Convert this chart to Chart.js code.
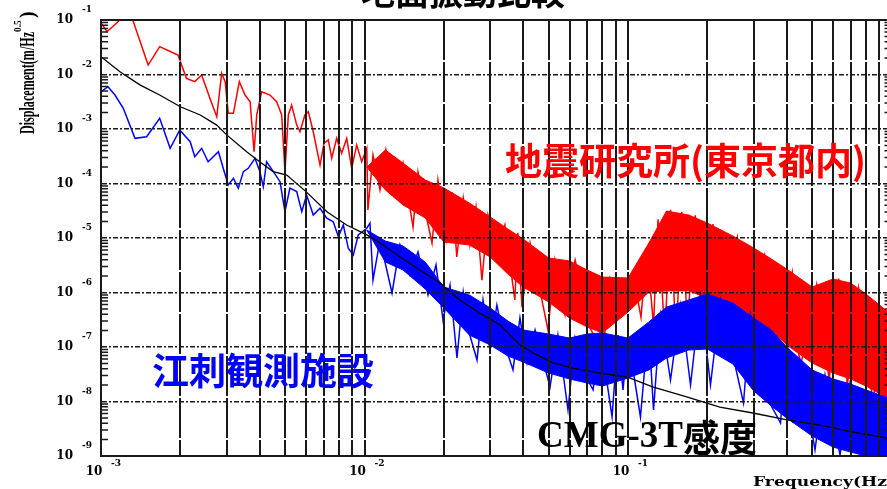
<!DOCTYPE html>
<html>
<head>
<meta charset="utf-8">
<title>地面振動比較</title>
<script src="https://cdn.jsdelivr.net/npm/chart.js@4.4.1/dist/chart.umd.min.js"></script>
<style>
  html, body { margin: 0; padding: 0; background: #fff; overflow: hidden; }
  canvas { display: block; }
</style>
</head>
<body>
<canvas id="chart" width="900" height="489"></canvas>
<script>
// CMG-3T sensitivity (black)
const blackFreq = [1.0e-3, 1.18e-3, 1.41e-3, 1.67e-3, 2.0e-3, 2.38e-3, 2.75e-3, 3.0e-3, 3.57e-3, 4.0e-3, 4.5e-3, 5.07e-3, 6.0e-3, 7.2e-3, 8.55e-3,
  1.02e-2, 1.15e-2, 1.36e-2, 1.62e-2, 1.94e-2, 2.3e-2, 2.74e-2, 3.27e-2, 3.89e-2, 4.36e-2, 5.19e-2, 6.18e-2, 7.83e-2, 9.9e-2,
  0.124, 0.167, 0.223, 0.298, 0.401, 0.535, 0.714, 0.96, 1.0];
const blackVal = [2.12e-2, 1.12e-2, 6.4e-3, 4.2e-3, 2.56e-3, 1.81e-3, 1.18e-3, 7.8e-4, 3.83e-4, 2.5e-4, 1.65e-4, 1.43e-4, 7.1e-5, 3.04e-5, 1.73e-5,
  1.14e-5, 8.0e-6, 4.54e-6, 2.59e-6, 1.48e-6, 7.3e-7, 4.15e-7, 2.53e-7, 1.09e-7, 7.8e-8, 5.1e-8, 4.1e-8, 3.33e-8, 2.82e-8,
  1.85e-8, 1.21e-8, 7.9e-9, 6.15e-9, 4.58e-9, 3.7e-9, 2.75e-9, 2.14e-9, 2.05e-9];

// 地震研究所 trace (red)
const redFreq = [1.0e-3, 1.054e-3, 1.16e-3, 1.24e-3, 1.32e-3, 1.51e-3, 1.67e-3, 1.78e-3, 1.96e-3, 2.11e-3, 2.27e-3, 2.41e-3, 2.59e-3, 2.75e-3,
  2.87e-3, 2.96e-3, 3.04e-3, 3.18e-3, 3.35e-3, 3.52e-3, 3.68e-3, 3.81e-3, 3.90e-3, 4.07e-3, 4.38e-3, 4.64e-3, 4.85e-3, 4.99e-3,
  5.14e-3, 5.29e-3, 5.53e-3, 5.69e-3, 5.94e-3, 6.12e-3, 6.39e-3, 6.78e-3, 7.02e-3, 7.29e-3, 7.51e-3, 7.84e-3, 8.19e-3, 8.56e-3,
  8.94e-3, 9.34e-3, 9.76e-3, 1.02e-2, 1.03e-2,
  1.077e-2, 1.145e-2, 1.206e-2, 1.305e-2, 1.40e-2, 1.528e-2, 1.596e-2, 1.712e-2, 1.804e-2, 1.90e-2, 2.04e-2, 2.15e-2, 2.24e-2,
  2.37e-2, 2.51e-2, 2.65e-2, 2.79e-2, 2.94e-2, 3.18e-2, 3.41e-2, 3.72e-2, 3.82e-2, 3.96e-2, 4.25e-2, 4.63e-2, 4.97e-2, 5.28e-2,
  5.77e-2, 6.30e-2, 7.18e-2, 8.04e-2, 8.54e-2, 9.33e-2, 0.1,
  0.105, 0.112, 0.118, 0.125, 0.13, 0.138, 0.145, 0.152, 0.16, 0.168, 0.18, 0.19, 0.21, 0.225, 0.26, 0.28, 0.33, 0.36,
  0.42, 0.45, 0.52, 0.58, 0.63, 0.68, 0.75, 0.85, 0.95];
const redVal = [8.8e-2, 6.1e-2, 9.3e-2, 1.4e-1, 1.0e-1, 1.49e-2, 3.24e-2, 2.82e-2, 2.28e-2, 8.5e-3, 7.4e-3, 9.8e-3, 3.66e-3, 1.68e-3,
  1.05e-2, 7.4e-3, 1.94e-3, 1.94e-3, 7.4e-3, 4.2e-3, 3.17e-3, 3.83e-4, 1.81e-3, 4.83e-3, 4.2e-3, 3.17e-3, 1.81e-3, 1.65e-4,
  1.81e-3, 2.75e-3, 1.18e-3, 8.9e-4, 1.81e-3, 2.08e-3, 8.9e-4, 2.18e-4, 5.47e-4, 6.3e-4, 2.9e-4, 6.75e-4, 3.58e-4, 6.75e-4,
  1.9e-4, 5.08e-4, 2.51e-4, 4.43e-4, 3.27e-5,
  3.33e-4, 7.6e-5, 4.12e-4, 6.15e-5, 2.38e-4, 1.59e-5, 1.63e-4, 2.64e-5, 8.1e-6, 1.16e-4, 9.2e-6, 6.98e-5, 4.48e-6,
  5.42e-5, 7.45e-6, 3.71e-5, 1.69e-6, 2.64e-5, 4.88e-6, 1.73e-5, 7.3e-7, 1.24e-5, 5.4e-7, 8.1e-6, 1.11e-6, 2.05e-7, 3.94e-6,
  3.87e-7, 3.94e-6, 2.23e-7, 7.8e-8, 1.85e-6, 7.3e-7, 1.85e-6,
  2.0e-6, 3.5e-7, 6.0e-6, 2.5e-7, 2.2e-5, 1.5e-7, 3.3e-5, 1.2e-7, 3.0e-5, 2.5e-7, 2.6e-5, 3.0e-7, 1.8e-5, 3.0e-7, 1.0e-5, 2.0e-7, 4.8e-6, 1.0e-7,
  2.4e-6, 4.0e-8, 1.4e-6, 2.5e-8, 1.8e-6, 2.0e-8, 1.2e-6, 1.0e-8, 4.8e-7];

// 江刺観測施設 trace (blue)
const blueFreq = [1.0e-3, 1.063e-3, 1.13e-3, 1.215e-3, 1.346e-3, 1.49e-3, 1.67e-3, 1.83e-3, 1.99e-3, 2.18e-3, 2.27e-3, 2.41e-3, 2.55e-3,
  2.79e-3, 2.91e-3, 3.04e-3, 3.18e-3, 3.32e-3, 3.47e-3, 3.62e-3, 3.84e-3, 4.01e-3, 4.13e-3, 4.25e-3, 4.51e-3, 4.78e-3, 4.99e-3,
  5.21e-3, 5.53e-3, 5.78e-3, 6.03e-3, 6.39e-3, 6.78e-3, 7.19e-3, 7.61e-3, 7.96e-3, 8.31e-3, 8.68e-3, 9.07e-3, 9.47e-3, 1.02e-2,
  1.049e-2, 1.077e-2, 1.145e-2, 1.272e-2, 1.363e-2, 1.488e-2, 1.596e-2, 1.742e-2, 1.868e-2, 1.986e-2, 2.111e-2, 2.244e-2, 2.37e-2,
  2.51e-2, 2.673e-2, 2.817e-2, 2.995e-2, 3.18e-2, 3.41e-2, 3.66e-2, 3.89e-2, 4.14e-2, 4.44e-2, 5.06e-2, 5.42e-2, 5.92e-2, 6.30e-2,
  6.87e-2, 7.37e-2, 7.83e-2, 8.70e-2, 9.17e-2, 9.57e-2, 0.1, 0.1115, 0.1196, 0.125, 0.1328, 0.145, 0.1582, 0.1727, 0.1884,
  0.2056, 0.2244, 0.2744, 0.2916, 0.3325, 0.3791, 0.401, 0.4229, 0.4496, 0.5125, 0.5593, 0.6377, 0.696, 0.8288, 0.96];
const blueVal = [4.83e-3, 5.97e-3, 4.2e-3, 2.4e-3, 6.75e-4, 7.22e-4, 1.57e-3, 4.43e-4, 9.6e-4, 5.85e-4, 3.1e-4, 4.43e-4, 2.51e-4,
  3.83e-4, 1.9e-4, 9.4e-5, 1.24e-4, 8.2e-5, 1.65e-4, 1.9e-4, 2.9e-4, 1.65e-4, 8.7e-5, 2.51e-4, 1.65e-4, 1.08e-4, 3.04e-5,
  8.2e-5, 7.1e-5, 3.04e-5, 6.15e-5, 2.64e-5, 3.51e-5, 2.3e-5, 1.99e-5, 1.06e-5, 1.73e-5, 6.47e-6, 4.88e-6, 1.14e-5, 1.51e-5,
  1.88e-5, 1.69e-6, 9.2e-6, 9.8e-7, 7.45e-6, 2.09e-6, 5.53e-6, 9.0e-7, 3.2e-6, 3.13e-7, 1.37e-6, 6.28e-8, 1.02e-6,
  1.66e-7, 5.77e-8, 7.3e-7, 8.8e-8, 5.9e-7, 1.09e-7, 3.79e-8, 3.4e-7, 5.08e-8, 2.05e-7, 1.85e-8, 1.66e-7, 6.98e-9, 1.46e-7,
  3.06e-8, 1.63e-8, 1.66e-7, 5.2e-9, 1.66e-7, 1.63e-8, 1.46e-7, 5.2e-9, 2.53e-7, 6.98e-9, 3.87e-7, 2.48e-8, 5.9e-7, 2.01e-8, 8.6e-7,
  2.01e-8, 7.3e-7, 9.4e-9, 3.87e-7, 1.32e-8, 4.03e-9, 1.09e-7, 4.03e-9, 5.77e-8, 1.29e-9, 3.06e-8, 1.04e-9, 2.18e-8, 1.0e-9, 1.21e-8];

// dense part of both spectra: upper / lower envelope
const bandFreq = [0.0102, 0.012, 0.014, 0.017, 0.02, 0.025, 0.03, 0.035, 0.04, 0.05, 0.06, 0.07, 0.08, 0.1,
  0.12, 0.14, 0.17, 0.2, 0.25, 0.3, 0.35, 0.4, 0.5, 0.6, 0.7, 0.8, 0.95, 1.0];
const redHigh = [2.0e-4, 4.12e-4, 2.38e-4, 1.16e-4, 8.3e-5, 4.39e-5, 2.43e-5, 1.46e-5, 9.6e-6, 4.3e-6, 3.79e-6, 2.59e-6, 1.92e-6, 1.85e-6,
  8.1e-6, 3.13e-5, 2.64e-5, 1.88e-5, 1.09e-5, 6.56e-6, 4.12e-6, 2.7e-6, 1.26e-6, 1.77e-6, 1.49e-6, 9.4e-7, 4.78e-7, 4.2e-7];
const redLow = [2.0e-4, 7.6e-5, 4.04e-5, 2.33e-5, 8.45e-6, 7.45e-6, 4.48e-6, 2.18e-6, 1.26e-6, 6.7e-7, 3.4e-7, 2.33e-7, 1.81e-7, 4.39e-7,
  1.02e-6, 1.07e-6, 1.07e-6, 7.9e-7, 5.4e-7, 3.4e-7, 2.05e-7, 1.09e-7, 5.08e-8, 3.33e-8, 2.59e-8, 1.92e-8, 1.21e-8, 1.1e-8];
const blueHigh = [1.4e-5, 8.8e-6, 7.13e-6, 3.63e-6, 1.26e-6, 9.0e-7, 5.2e-7, 3.0e-7, 2.05e-7, 1.73e-7, 1.46e-7, 1.73e-7, 1.81e-7, 1.46e-7,
  2.88e-7, 5.4e-7, 7.3e-7, 9.4e-7, 6.41e-7, 3.4e-7, 2.05e-7, 1.0e-7, 3.79e-8, 2.59e-8, 2.09e-8, 1.63e-8, 1.21e-8, 1.1e-8];
const blueLow = [1.4e-5, 3.63e-6, 2.59e-6, 1.16e-6, 5.2e-7, 1.66e-7, 1.09e-7, 6.84e-8, 5.31e-8, 3.33e-8, 2.59e-8, 2.18e-8, 1.92e-8, 2.7e-8,
  3.79e-8, 6.28e-8, 8.8e-8, 9.2e-8, 4.88e-8, 1.56e-8, 8.3e-9, 4.98e-9, 2.33e-9, 1.46e-9, 1.18e-9, 1.0e-9, 9.1e-10, 9.0e-10];

// axes
const xDecades = [1e-3, 1e-2, 1e-1, 1];
const xExpLabels = ['-3', '-2', '-1', '0'];
const yDecades = [1e-9, 1e-8, 1e-7, 1e-6, 1e-5, 1e-4, 1e-3, 1e-2, 1e-1];
const yExpLabels = ['-9', '-8', '-7', '-6', '-5', '-4', '-3', '-2', '-1'];

const isDecade = v => Math.abs(Math.log10(v) - Math.round(Math.log10(v))) < 1e-6;

// minor grid values 1..9 x each decade
function withMinor(decades) {
  const out = [];
  decades.forEach((d, i) => {
    if (i === decades.length - 1) { out.push(d); return; }
    for (let k = 1; k < 10; k++) out.push(Number((k * d).toPrecision(3)));
  });
  return out;
}
const xGrid = withMinor(xDecades);
const yGrid = withMinor(yDecades);

const pts = (xs, ys) => xs.map((x, i) => ({ x: x, y: ys[i] }));

const RED = '#ff0000', BLUE = '#0000ff', INK = '#1a1a1a';

const decor = {
  id: 'decor',
  beforeDraw(chart) {
    const ctx = chart.ctx;
    ctx.save();
    ctx.fillStyle = '#fff';
    ctx.fillRect(0, 0, chart.width, chart.height);
    ctx.restore();
  },
  afterDraw(chart) {
    const ctx = chart.ctx;
    const { left, right, top, bottom } = chart.chartArea;
    const xs = chart.scales.x, ys = chart.scales.y;
    ctx.save();

    // frame
    ctx.strokeStyle = INK;
    ctx.lineWidth = 2;
    ctx.beginPath();
    ctx.moveTo(left, top); ctx.lineTo(right, top); ctx.lineTo(right, bottom);
    ctx.stroke();

    // inward minor ticks on the y axes
    ctx.lineWidth = 1.5;
    yGrid.forEach(v => {
      if (isDecade(v)) return;
      const y = ys.getPixelForValue(v);
      ctx.beginPath();
      ctx.moveTo(left, y); ctx.lineTo(left + 7, y);
      ctx.moveTo(right - 7, y); ctx.lineTo(right, y);
      ctx.stroke();
    });

    // exponents of tick labels
    ctx.fillStyle = '#000';
    ctx.font = 'bold 9px "DejaVu Serif"';
    ctx.textAlign = 'left';
    ctx.textBaseline = 'middle';
    yDecades.forEach((v, i) => ctx.fillText(yExpLabels[i], 82, ys.getPixelForValue(v) - 10));
    xDecades.forEach((v, i) => ctx.fillText(xExpLabels[i], xs.getPixelForValue(v) + 10, 464));

    // y title, rotated
    ctx.save();
    ctx.translate(34, 134);
    ctx.rotate(-Math.PI / 2);
    ctx.textBaseline = 'alphabetic';
    ctx.font = 'bold 20px "Liberation Serif"';
    const main = 'Displacement(m/Hz';
    const mw = ctx.measureText(main).width;
    ctx.save(); ctx.scale(102 / mw, 1); ctx.fillText(main, 0, 0); ctx.restore();
    ctx.font = 'bold 11px "Liberation Serif"';
    ctx.save(); ctx.translate(102, -13); ctx.scale(0.85, 1); ctx.fillText('0.5', 0, 0); ctx.restore();
    ctx.font = 'bold 20px "Liberation Serif"';
    ctx.fillText(')', 116, 0);
    ctx.restore();

    // x title (runs off the right edge)
    ctx.save();
    ctx.textBaseline = 'alphabetic';
    ctx.font = 'bold 12px "DejaVu Serif"';
    const xw = ctx.measureText('Frequency(Hz').width;
    ctx.translate(753, 486);
    ctx.scale(134 / xw, 1);
    ctx.fillText('Frequency(Hz)', 0, 0);
    ctx.restore();

    // title, mostly above the page
    ctx.textAlign = 'center';
    ctx.textBaseline = 'alphabetic';
    ctx.font = 'bold 34px "Noto Sans CJK JP"';
    ctx.fillText('地面振動比較', 463, 5);

    // labels
    ctx.textAlign = 'left';
    ctx.font = 'bold 37px "Noto Sans CJK JP"';
    ctx.fillStyle = RED;
    ctx.fillText('地震研究所(東京都内)', 505, 175);
    ctx.fillStyle = BLUE;
    ctx.fillText('江刺観測施設', 152, 385);
    ctx.fillStyle = '#000';
    ctx.font = 'bold 37px "Liberation Serif"';
    ctx.fillText('CMG-3T', 537, 447);
    const cw = ctx.measureText('CMG-3T').width;
    ctx.font = 'bold 37px "Noto Sans CJK JP"';
    ctx.fillText('感度', 537 + cw, 452);

    ctx.restore();
  }
};

new Chart(document.getElementById('chart'), {
  type: 'line',
  data: {
    datasets: [
      { label: 'CMG-3T感度', data: pts(blackFreq, blackVal), borderColor: '#000', borderWidth: 1.3 },
      { label: '江刺観測施設', data: pts(blueFreq, blueVal), borderColor: BLUE, borderWidth: 1.5 },
      { label: '江刺 上限', data: pts(bandFreq, blueHigh), borderColor: BLUE, backgroundColor: BLUE, borderWidth: 1, fill: '+1' },
      { label: '江刺 下限', data: pts(bandFreq, blueLow), borderColor: BLUE, borderWidth: 1, fill: false },
      { label: '地震研究所', data: pts(redFreq, redVal), borderColor: RED, borderWidth: 1.5 },
      { label: '地震研 上限', data: pts(bandFreq, redHigh), borderColor: RED, backgroundColor: RED, borderWidth: 1, fill: '+1' },
      { label: '地震研 下限', data: pts(bandFreq, redLow), borderColor: RED, borderWidth: 1, fill: false }
    ]
  },
  options: {
    responsive: false,
    animation: false,
    layout: { autoPadding: false, padding: { top: 20, right: 8.5, left: 0, bottom: 0 } },
    elements: { point: { radius: 0 }, line: { tension: 0 } },
    plugins: { legend: { display: false }, tooltip: { enabled: false } },
    scales: {
      x: {
        type: 'logarithmic', min: 1e-3, max: 1,
        afterBuildTicks: s => { s.ticks = xGrid.map(v => ({ value: v })); },
        afterFit: s => { s.height = 33; s.paddingLeft = 0; s.paddingRight = 0; },
        grid: { color: INK, lineWidth: 2, drawTicks: false, z: 1 },
        border: { display: true, color: INK, width: 2, dash: [40, 2], z: 1 },
        ticks: {
          autoSkip: false, maxRotation: 0, padding: 9, labelOffset: -7, color: '#000',
          font: { family: '"DejaVu Serif"', weight: 'bold', size: 12 },
          callback: v => (isDecade(v) && v < 1 ? '10' : '')
        }
      },
      y: {
        type: 'logarithmic', min: 1e-9, max: 1e-1,
        afterBuildTicks: s => { s.ticks = yGrid.map(v => ({ value: v })); },
        afterFit: s => { s.width = 101; s.paddingTop = 0; s.paddingBottom = 0; },
        grid: {
          color: c => (c.tick && isDecade(c.tick.value) ? INK : 'rgba(0,0,0,0)'),
          lineWidth: 1.5, drawTicks: false, z: 1
        },
        border: {
          display: true, color: INK, width: 2, z: 1,
          dash: c => (c.tick && isDecade(c.tick.value) ? [5, 2, 2, 2] : [])
        },
        ticks: {
          autoSkip: false, padding: 28, color: '#000',
          font: { family: '"DejaVu Serif"', weight: 'bold', size: 12 },
          callback: v => (isDecade(v) ? '10' : '')
        }
      }
    }
  },
  plugins: [decor]
});
</script>
</body>
</html>
